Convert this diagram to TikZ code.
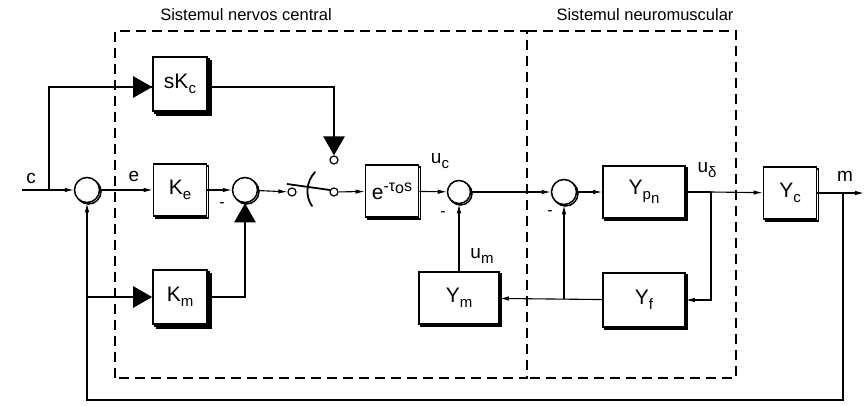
\documentclass[tikz,border=0pt]{standalone}
\usepackage{fontspec}
\setmainfont{Liberation Sans}
\usetikzlibrary{arrows.meta,shadows,calc}
\newcommand\sbs[1]{\raisebox{-0.45ex}{\fontsize{15}{15}\selectfont #1}}
\begin{document}
\begin{tikzpicture}[x=1pt,y=-1pt,
  blk/.style={draw,line width=1.6pt,fill=white,minimum width=53pt,minimum height=52pt,inner sep=0pt,
    font=\fontsize{21}{21}\selectfont,copy shadow={shadow xshift=2pt,shadow yshift=-2pt}},
  blkd/.style={draw,line width=1.6pt,fill=white,minimum width=54pt,minimum height=54pt,inner sep=0pt,
    font=\fontsize{21}{21}\selectfont,double copy shadow={shadow xshift=2pt,shadow yshift=-2pt}},
  sumc/.style={circle,draw,line width=1.5pt,fill=white,minimum size=25pt,inner sep=0pt,
    copy shadow={shadow xshift=1.5pt,shadow yshift=-1.5pt}},
  swc/.style={circle,draw,line width=1.2pt,fill=white,minimum size=8pt,inner sep=0pt},
  sig/.style={line width=1.1pt,-{Latex[length=9pt,width=4.5pt]}},
  thn/.style={line width=1.1pt},
  thk/.style={line width=2.6pt,-{Triangle[length=19pt,width=21pt]}},
  thkn/.style={line width=2.6pt},
  dsh/.style={line width=2.8pt,dash pattern=on 10pt off 6pt},
  lbl/.style={font=\fontsize{19}{19}\selectfont,inner sep=1pt},
  mns/.style={font=\fontsize{16}{16}\selectfont,inner sep=0pt},
  ttl/.style={font=\fontsize{16.5}{16.5}\selectfont,inner sep=0pt}]
\useasboundingbox (0,0) rectangle (867,405);
% dashed regions
\draw[dsh] (115,378) -- (115,31) -- (527,31) -- (527,378) -- cycle;
\draw[dsh] (527,31) -- (736,31) -- (736,378) -- (527,378);
\node[ttl] (t1) at (246,15) {Sistemul nervos central};
\node[ttl] (t2) at (645,15) {Sistemul neuromuscular};
% blocks
\node[sumc] (sum1) at (87,190) {};
\node[blk] (ke) at (180,190) {K\sbs{e}};
\node[blkd] (skc) at (180,84) {sK\sbs{c}};
\node[blkd] (km) at (180,297) {K\sbs{m}};
\node[sumc] (sum2) at (245,190) {};
\node[swc] (swl) at (292,192) {};
\node[swc] (swr) at (334,192) {};
\node[swc] (swt) at (334,160) {};
\node[blk] (del) at (392,191) {e\raisebox{.75ex}{\fontsize{16}{16}\selectfont -τ\raisebox{-.25ex}{o}s}};
\node[sumc,minimum size=23pt] (sum3) at (459,192) {};
\node[blk,minimum width=80pt] (ym) at (459,298) {Y\sbs{m}};
\node[sumc] (sum4) at (564,192) {};
\node[blk,minimum width=82pt] (ypn) at (644,192) {Y\sbs{p\sbs{n}}};
\node[blk,minimum width=82pt,minimum height=54pt] (yf) at (644,300) {Y\sbs{f}};
\node[blk] (yc) at (790,193) {Y\sbs{c}};
% coordinates
\coordinate (in) at (22,190);
\coordinate (b1) at (49,190);
\coordinate (bk) at (87,297);
\coordinate (br) at (711,192);
\coordinate (bm) at (843,193);
\coordinate (out) at (864,193);
\coordinate (bot) at (843,400);
\coordinate (fb4) at (564,299);
\coordinate (lv1) at (287,184);
\coordinate (lv2) at (330,190);
% labels
\node[lbl] (lc) at (31,178) {c};
\node[lbl] (le) at (134,176) {e};
\node[mns] (m2) at (222,205) {-};
\node[mns] (m3) at (443,214) {-};
\node[mns] (m4) at (550,213) {-};
% connectors
\draw[sig] (in) -- (sum1);
\draw[sig] (sum1) -- (ke);
\draw[sig] (ke) -- (sum2);
\draw[sig] (sum2) -- (swl);
\draw[line width=1.8pt] (lv1) -- (lv2);
\draw[line width=1.8pt,line cap=round] (315,172) .. controls (306,182) and (305,196) .. (312,206);
\draw[sig] (swr) -- (del);
\draw[thkn] (b1) |- ($(skc.west)+(0,3)$);
\draw[thk] ($(b1)+(0,-103)$) -- ($(skc.west)+(0,3)$);
\draw[thk] ($(skc.east)+(0,3)$) -| (swt);
\draw[sig] (del) -- (sum3);
\node[lbl] (luc) at (440,161) {u\sbs{c}};
\draw[sig] (sum3) -- (sum4);
\draw[sig] (sum4) -- (ypn);
\draw[thn] (ypn) -- (br);
\node[lbl] (lud) at (707,170) {u\sbs{δ}};
\draw[sig] (br) -- (yc);
\draw[sig] (br) |- (yf);
\draw[sig] (yc) -- (out);
\node[lbl] (lm) at (845,176) {m};
\draw[sig] (yf) -- (ym);
\draw[sig] (fb4) -- (sum4);
\draw[sig] (ym) -- (sum3);
\node[lbl] (lum) at (482,256) {u\sbs{m}};
\draw[sig] (bm) -- (bot) -| (sum1);
\draw[thk] (bk) -- (km);
\draw[thk] (km.east) -| (sum2);
\end{tikzpicture}
\end{document}
